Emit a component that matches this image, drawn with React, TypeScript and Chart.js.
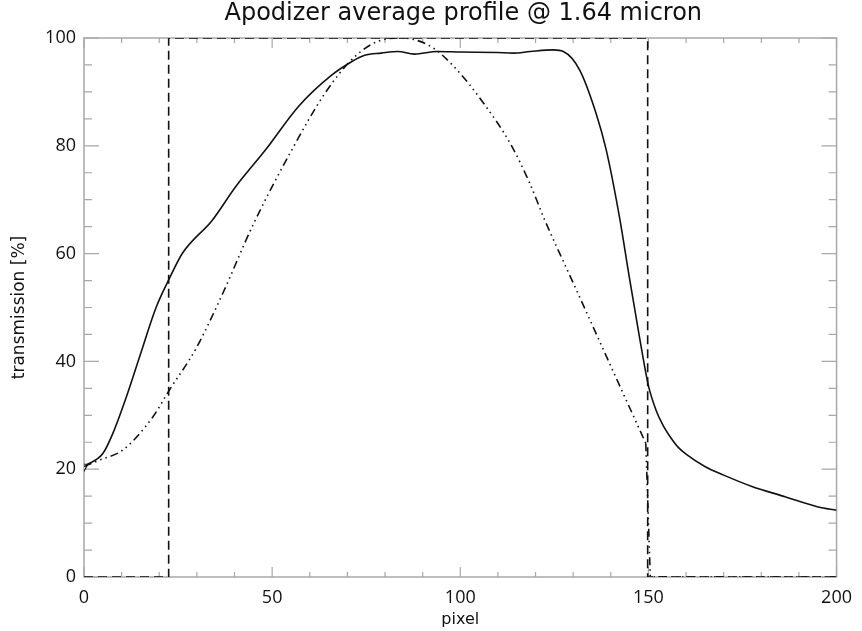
import React, { useEffect, useRef } from "react";
import { Chart, registerables } from "chart.js";

Chart.register(...registerables);

const TITLE = "Apodizer average profile @ 1.64 micron";
const X_LABEL = "pixel";
const Y_LABEL = "transmission [%]";

// measured transmission profile (solid)
const measuredX = [0, 0.7, 5, 7.7, 11.3, 14.8, 19.2, 22.7, 26.2, 34.1, 40.3, 48.2, 57, 65.8, 71.1, 74.6, 79, 83.4, 87.8, 93.9, 100, 109.8, 114.1, 118.6, 124.7, 127.4, 131.7, 136.1, 138.8, 142.3, 144.9, 147.6, 150, 152, 154, 156, 158, 160, 165, 170, 177.5, 186.3, 195.1, 200];
const measuredY = [20.5, 20.8, 22.9, 26.7, 33.5, 40.9, 50.1, 55.4, 60.1, 66.2, 72.4, 79.2, 87.3, 93.1, 95.6, 96.8, 97.2, 97.5, 97.0, 97.5, 97.4, 97.3, 97.2, 97.5, 97.8, 97.5, 94.1, 86.0, 79.2, 66.8, 55.7, 44.6, 35.5, 31.0, 28.0, 25.8, 24.0, 22.8, 20.5, 18.9, 16.8, 14.9, 13.0, 12.4];

// theoretical apodizer profile (dash-dot-dot-dot)
const theoryX = [0, 4.2, 10.4, 18.3, 22.7, 29.7, 36.8, 44.7, 55.2, 64, 71.9, 79, 84.5, 92.2, 98.3, 106.2, 113.3, 118.5, 122.1, 130.9, 139.7, 149.3];
const theoryY = [20.5, 21.7, 23.6, 29.7, 34.7, 42.3, 52.5, 65, 79.2, 89.7, 96.5, 99.6, 100, 98.4, 94.7, 87.9, 80.4, 73.0, 66.8, 53.2, 39.6, 24.8];
// cut-off of the theoretical profile beyond the pupil edge
const theoryTailX = [149.3, 150.5, 200];
const theoryTailY = [24.8, 0, 0];

// pupil mask (dashed top-hat)
const pupilX = [0, 22.5, 22.5, 149.8, 149.8, 200];
const pupilY = [0, 0, 100, 100, 0, 0];

const X_MIN = 0, X_MAX = 200, X_MAJOR = 50, X_MINOR = 10;
const Y_MIN = 0, Y_MAX = 100, Y_MAJOR = 20, Y_MINOR = 5;

const AXIS_COLOR = "#a8a8a8";
const TICK_FONT = "'Open Sans', 'DejaVu Sans', sans-serif";
const TEXT_FONT = "'DejaVu Sans', 'Open Sans', sans-serif";
const DASH_DOT3 = [8, 4, 1.5, 4, 1.5, 4, 1.5, 4];

const toPts = (xs: number[], ys: number[]) => xs.map((x, i) => ({ x, y: ys[i] }));

const framePlugin = {
  id: "idlFrame",
  beforeDatasetsDraw(chart: any) {
    const { ctx, chartArea: a, scales } = chart;
    const xs = scales.x, ys = scales.y;
    ctx.save();
    ctx.strokeStyle = AXIS_COLOR;
    ctx.lineWidth = 1.5;
    ctx.strokeRect(a.left, a.top, a.right - a.left, a.bottom - a.top);
    ctx.lineWidth = 1.2;
    ctx.beginPath();
    for (let v = X_MIN; v <= X_MAX + 1e-9; v += X_MINOR) {
      const px = xs.getPixelForValue(v);
      const len = Math.abs(v % X_MAJOR) < 1e-9 ? 10 : 5;
      ctx.moveTo(px, a.bottom); ctx.lineTo(px, a.bottom - len);
      ctx.moveTo(px, a.top); ctx.lineTo(px, a.top + len);
    }
    for (let v = Y_MIN; v <= Y_MAX + 1e-9; v += Y_MINOR) {
      const py = ys.getPixelForValue(v);
      const len = Math.abs(v % Y_MAJOR) < 1e-9 ? 15 : 8;
      ctx.moveTo(a.left, py); ctx.lineTo(a.left + len, py);
      ctx.moveTo(a.right, py); ctx.lineTo(a.right - len, py);
    }
    ctx.stroke();
    ctx.restore();
  },
  afterDraw(chart: any) {
    const { ctx, chartArea: a } = chart;
    ctx.save();
    ctx.fillStyle = "#111";
    ctx.font = `normal 24px ${TEXT_FONT}`;
    ctx.textAlign = "center";
    ctx.textBaseline = "middle";
    ctx.fillText(TITLE, (a.left + a.right) / 2 + 3, 14);
    ctx.restore();
  },
};

export default function App() {
  const ref = useRef<HTMLCanvasElement | null>(null);
  useEffect(() => {
    if (!ref.current) return;
    const chart = new Chart(ref.current, {
      type: "line",
      data: {
        datasets: [
          {
            label: "pupil",
            data: toPts(pupilX, pupilY),
            borderColor: "#111",
            borderWidth: 1.6,
            borderDash: [9, 5],
            pointRadius: 0,
            tension: 0,
            fill: false,
          },
          {
            label: "theory",
            data: toPts(theoryX, theoryY),
            borderColor: "#111",
            borderWidth: 1.6,
            borderDash: DASH_DOT3,
            pointRadius: 0,
            cubicInterpolationMode: "monotone",
            fill: false,
          },
          {
            label: "theory cut",
            data: toPts(theoryTailX, theoryTailY),
            borderColor: "#111",
            borderWidth: 1.6,
            borderDash: DASH_DOT3,
            pointRadius: 0,
            tension: 0,
            fill: false,
          },
          {
            label: "measured",
            data: toPts(measuredX, measuredY),
            borderColor: "#111",
            borderWidth: 1.6,
            pointRadius: measuredX.map((_, i) => (i === 0 ? 4.5 : 0)),
            pointStyle: "triangle",
            rotation: 180,
            pointBackgroundColor: "#fff",
            pointBorderColor: "#111",
            pointBorderWidth: 1.2,
            cubicInterpolationMode: "monotone",
            fill: false,
          },
        ],
      },
      options: {
        animation: false,
        responsive: false,
        maintainAspectRatio: false,
        layout: { padding: { left: 0, right: 20, top: 38, bottom: 0 } },
        plugins: {
          legend: { display: false },
          tooltip: { enabled: false },
          title: { display: false },
        },
        scales: {
          x: {
            type: "linear",
            min: X_MIN,
            max: X_MAX,
            grid: { display: false, drawTicks: false },
            border: { display: false },
            ticks: { stepSize: X_MAJOR, color: "#111", padding: 10, font: { family: TICK_FONT, size: 18 } },
            title: { display: true, text: X_LABEL, color: "#111", font: { family: TEXT_FONT, size: 16 }, padding: { top: 0, bottom: 2 } },
            afterFit: (s: any) => { s.height = 54; },
          },
          y: {
            type: "linear",
            min: Y_MIN,
            max: Y_MAX,
            grid: { display: false, drawTicks: false },
            border: { display: false },
            ticks: { stepSize: Y_MAJOR, color: "#111", padding: 8, font: { family: TICK_FONT, size: 18 } },
            title: { display: true, text: Y_LABEL, color: "#111", font: { family: TEXT_FONT, size: 17 }, padding: { top: 9, bottom: 0 } },
            afterFit: (s: any) => { s.width = 84; },
          },
        },
      },
      plugins: [framePlugin],
    });
    return () => chart.destroy();
  }, []);
  return (
    <div style={{ position: "fixed", left: 0, top: 0, width: 862, height: 631, background: "#fff" }}>
      <canvas ref={ref} width={862} height={631} style={{ width: 862, height: 631, display: "block" }} />
    </div>
  );
}
